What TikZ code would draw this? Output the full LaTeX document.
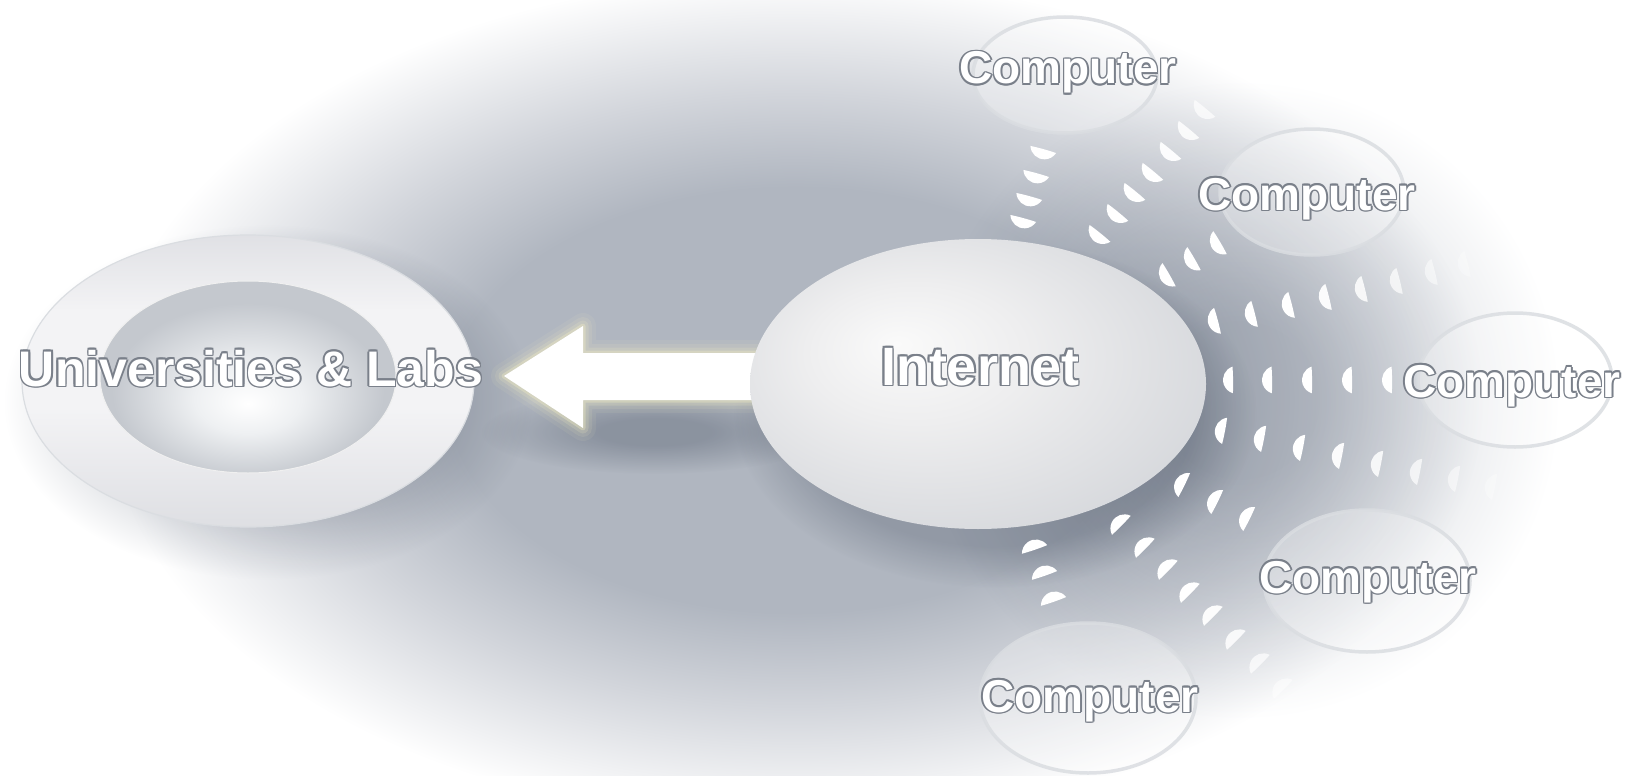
\documentclass[tikz,border=0pt]{standalone}
\usepackage{fontspec}
\setmainfont{Liberation Sans}
\definecolor{bgg}{RGB}{176,182,192}
\definecolor{bgm}{RGB}{210,213,219}
\definecolor{bgr}{RGB}{206,210,216}
\definecolor{shc}{RGB}{212,215,220}
\definecolor{sha}{RGB}{202,206,212}
\definecolor{shr}{RGB}{210,213,218}
\definecolor{glowc}{RGB}{250,244,196}
\definecolor{olc}{RGB}{122,128,138}
\definecolor{gla}{RGB}{250,250,250}
\definecolor{glb}{RGB}{238,238,239}
\definecolor{glc}{RGB}{214,216,220}
\definecolor{rta}{RGB}{224,225,229}
\definecolor{rma}{RGB}{243,243,245}
\definecolor{rba}{RGB}{222,223,227}
\definecolor{hla}{RGB}{238,240,242}
\definecolor{hlb}{RGB}{196,200,206}
\definecolor{cring}{RGB}{218,221,225}
\pgfdeclareradialshading{blob}{\pgfpointorigin}{color(0bp)=(bgg); color(12.5bp)=(bgg); color(18bp)=(bgm); color(25bp)=(white); color(50bp)=(white)}
\pgfdeclareradialshading{blobr}{\pgfpointorigin}{color(0bp)=(bgr); color(6bp)=(bgr); color(25bp)=(white); color(50bp)=(white)}
\pgfdeclareradialshading{soft}{\pgfpointorigin}{color(0bp)=(shc); color(19bp)=(shc); color(25bp)=(white); color(50bp)=(white)}
\pgfdeclareradialshading{softa}{\pgfpointorigin}{color(0bp)=(sha); color(8bp)=(sha); color(25bp)=(white); color(50bp)=(white)}
\pgfdeclareradialshading{softr}{\pgfpointorigin}{color(0bp)=(shr); color(15bp)=(shr); color(25bp)=(white); color(50bp)=(white)}
\pgfdeclareradialshading{glossy}{\pgfpoint{-9bp}{7bp}}{color(0bp)=(gla); color(12bp)=(glb); color(31bp)=(glc); color(50bp)=(glc)}
\pgfdeclareverticalshading{ringsh}{100bp}{color(0bp)=(rba); color(25bp)=(rba); color(45bp)=(rma); color(62bp)=(rma); color(75bp)=(rta); color(100bp)=(rta)}
\pgfdeclareradialshading{holesh}{\pgfpoint{0bp}{-7bp}}{color(0bp)=(white); color(9bp)=(hla); color(23bp)=(hlb); color(50bp)=(hlb)}
\newbox\olbox
\newcommand\olt[1]{\setbox\olbox=\hbox{#1}%
  \rlap{\color{olc}\kern1.6pt\copy\olbox}%
  \rlap{\color{olc}\kern-1.6pt\copy\olbox}%
  \rlap{\color{olc}\raise1.6pt\copy\olbox}%
  \rlap{\color{olc}\lower1.6pt\copy\olbox}%
  \rlap{\color{olc}\kern1.13pt\raise1.13pt\copy\olbox}%
  \rlap{\color{olc}\kern-1.13pt\raise1.13pt\copy\olbox}%
  \rlap{\color{olc}\kern1.13pt\lower1.13pt\copy\olbox}%
  \rlap{\color{olc}\kern-1.13pt\lower1.13pt\copy\olbox}%
  {\color{white}\copy\olbox}}
\newcommand\mk[3]{%
  \pgfmathsetmacro\mkang{atan2(384-#2,#1-978)}%
  \fill[white, opacity=#3, shift={(#1,#2)}, rotate=\mkang, xshift=9pt]
    (108:14pt) arc[start angle=108, end angle=252, radius=14pt]
    .. controls (-3.8pt,-6pt) and (-3.8pt,6pt) .. cycle;}
\tikzset{
  lbl/.style={anchor=base, inner sep=0pt, font=\bfseries\fontsize{46pt}{52pt}\selectfont},
  comp/.style={draw=cring, line width=3.5pt, fill=white, fill opacity=0.3, draw opacity=0.85},
}
\begin{document}
\begin{tikzpicture}[x=1pt, y=-1pt]
\useasboundingbox (0,0) rectangle (1630,776);
\fill[white] (0,0) rectangle (1630,776);
% background blobs
\begin{scope}[blend mode=multiply]
\shade[shading=blob] (795,400) ellipse [x radius=690pt, y radius=425pt];
\shade[shading=blobr] (1240,400) ellipse [x radius=320pt, y radius=320pt];
\shade[shading=softr] (268,402) ellipse [x radius=265pt, y radius=178pt];
\shade[shading=soft] (995,414) ellipse [x radius=262pt, y radius=174pt];
\shade[shading=softa] (655,432) ellipse [x radius=175pt, y radius=42pt];
\end{scope}
% ring (Universities & Labs)
\shade[shading=ringsh, even odd rule] (248,381) ellipse [x radius=226pt, y radius=146pt]
  (248,377) ellipse [x radius=148pt, y radius=96pt];
\draw[cring, line width=1.2pt] (248,381) ellipse [x radius=226pt, y radius=146pt];
\shade[shading=holesh] (248,377) ellipse [x radius=148pt, y radius=96pt];
\draw[white!88!gray, line width=1pt] (248,377) ellipse [x radius=148pt, y radius=96pt];
\node[lbl, font=\bfseries\fontsize{50pt}{56pt}\selectfont] (uni) at (251,386) {\olt{Universities \& Labs}};
% arrow with glow
\foreach \w/\o in {26/0.07, 18/0.1, 11/0.16, 5/0.3}
  \draw[glowc, line width=\w pt, opacity=\o, line join=round]
    (504,376) -- (583,326) -- (583,353) -- (760,353) -- (760,400) -- (583,400) -- (583,428) -- cycle;
\fill[white] (504,376) -- (583,326) -- (583,353) -- (760,353) -- (760,400) -- (583,400) -- (583,428) -- cycle;
% chevron trails
\foreach \x/\y/\o in {1022/223/1,1028/201/1,1035/178/1,1042/154/1,
  1097/237/1,1115/216/1,1132/195/1,1150/175/1,1168/154/0.95,1186/133/0.85,1202/112/0.7,
  1165/277/1,1190/261/1,1216/245/1,
  1213/322/1,1250/315/1,1287/306/1,1324/298/0.95,1360/290/0.85,1395/282/0.7,1430/273/0.5,1463/265/0.3,
  1228/380/1,1267/380/1,1307/380/1,1347/380/1,1387/380/1,
  1220/430/1,1259/438/1,1298/447/1,1337/455/0.95,1376/463/0.85,1415/471/0.7,1453/478/0.5,1490/486/0.3,
  1180/483/1,1213/500/1,1245/517/1,
  1118/522/1,1142/545/1,1165/567/1,1187/590/1,1210/613/0.95,1233/637/0.85,1257/661/0.7,1280/686/0.5,1302/709/0.35,
  1033/545/1,1043/571/1,1052/597/1}
  {\mk{\x}{\y}{\o}}
% Internet
\shade[shading=glossy] (978,384) ellipse [x radius=228pt, y radius=145pt];
\node[lbl, font=\bfseries\fontsize{54pt}{60pt}\selectfont] (inet) at (980,385) {\olt{Internet}};
% computers
\draw[comp] (1065,75) ellipse [x radius=92pt, y radius=58pt];
\draw[comp] (1312,192) ellipse [x radius=92pt, y radius=63pt];
\draw[comp] (1515,380) ellipse [x radius=97pt, y radius=67pt];
\draw[comp] (1367,581) ellipse [x radius=103pt, y radius=71pt];
\draw[comp] (1088,698) ellipse [x radius=108pt, y radius=75pt];
\node[lbl] (c1) at (1068,84) {\olt{Computer}};
\node[lbl] (c2) at (1307,210) {\olt{Computer}};
\node[lbl] (c3) at (1512,397) {\olt{Computer}};
\node[lbl] (c4) at (1368,593) {\olt{Computer}};
\node[lbl] (c5) at (1090,712) {\olt{Computer}};
\end{tikzpicture}
\end{document}
